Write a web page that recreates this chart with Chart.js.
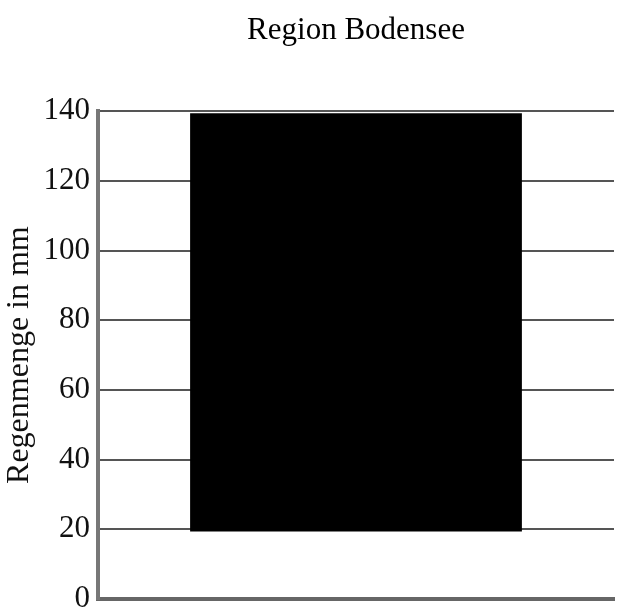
<!DOCTYPE html>
<html>
<head>
<meta charset="utf-8">
<script src="https://cdn.jsdelivr.net/npm/chart.js@4"></script>
<style>
  html, body { margin: 0; padding: 0; background: #fff; overflow: hidden; }
  #wrap { width: 620px; height: 607px; }
</style>
</head>
<body>
<div id="wrap"><canvas id="myChart"></canvas></div>
<script>
const categories = ['Bodensee'];
const rainRange = [[19.4, 139.4]];
const yTicks = [0, 20, 40, 60, 80, 100, 120, 140];

document.addEventListener("DOMContentLoaded", function () {
    const ctx = document.getElementById('myChart').getContext('2d');
    const serif = "'Liberation Serif', 'DejaVu Serif', serif";

    new Chart(ctx, {
        type: 'bar',
        data: {
            labels: categories,
            datasets: [{
                label: 'Regenmenge',
                data: rainRange,
                backgroundColor: '#000',
                borderWidth: 0,
                barPercentage: 1,
                categoryPercentage: 0.643
            }]
        },
        options: {
            responsive: true,
            maintainAspectRatio: false,
            animation: false,
            layout: { padding: { right: 6, bottom: 8 } },
            plugins: {
                legend: { display: false },
                tooltip: { enabled: false },
                title: {
                    display: true,
                    fullSize: false,
                    text: 'Region Bodensee',
                    color: '#000',
                    font: { family: serif, size: 31, weight: 'normal' },
                    padding: { top: 12, bottom: 62 }
                }
            },
            scales: {
                x: {
                    afterFit: scale => { scale.height = 0; },
                    ticks: { display: false },
                    grid: { display: false },
                    border: { display: true, color: '#666', width: 4 }
                },
                y: {
                    min: yTicks[0],
                    max: yTicks[yTicks.length - 1],
                    afterBuildTicks: scale => { scale.ticks = yTicks.map(v => ({ value: v })); },
                    afterFit: scale => {
                        scale.width = 98;
                        scale.paddingBottom = 0;
                    },
                    ticks: {
                        color: '#111',
                        padding: 8,
                        font: { family: serif, size: 31 }
                    },
                    grid: { color: '#555', lineWidth: 2, drawTicks: false },
                    border: { color: '#777', width: 4 },
                    title: {
                        display: true,
                        text: 'Regenmenge in mm',
                        color: '#111',
                        font: { family: serif, size: 32 },
                        padding: { top: 0, bottom: 2 }
                    }
                }
            }
        }
    });
});
</script>
</body>
</html>
